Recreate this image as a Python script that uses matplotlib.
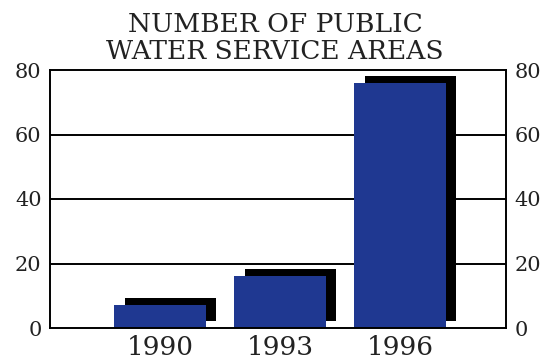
import numpy as np
import matplotlib
matplotlib.use('Agg')
import matplotlib.pyplot as plt

years = ['1990', '1993', '1996']
areas = [7, 16, 76]
y_ticks = [0, 20, 40, 60, 80]

bar_color = '#1f3891'
shadow_dx = 0.085   # shadow shift right, in bar units
shadow_dy = 2.2     # shadow shift up, in data units

fig = plt.figure(figsize=(5.54, 3.62), dpi=100)
ax = fig.add_axes([50 / 554, 1 - 328 / 362, 456 / 554, 258 / 362])

x = np.arange(len(years))
w = 0.76

# black "3d" shadow behind each bar
ax.bar(x + shadow_dx, areas, width=w, bottom=shadow_dy, color='black', zorder=2)
ax.bar(x, areas, width=w, color=bar_color, zorder=3)

for yv in y_ticks[1:-1]:
    ax.axhline(yv, color='black', linewidth=1.4, zorder=1)

ax.set_xlim(-0.917, 2.883)
ax.set_ylim(0, 80)
ax.set_xticks(x)
ax.set_xticklabels(years, fontsize=19, family='DejaVu Serif')
ax.set_yticks(y_ticks)
ax.set_yticklabels([str(v) for v in y_ticks], fontsize=15, family='DejaVu Serif')
ax.tick_params(axis='both', length=0, colors='#222222')
ax.tick_params(axis='x', pad=5)
ax.tick_params(axis='y', pad=6, labelright=True, right=True)

for axis in ['top', 'bottom', 'left', 'right']:
    ax.spines[axis].set_linewidth(1.4)
    ax.spines[axis].set_zorder(4)

fig.text(275 / 554, 0.967, 'NUMBER OF PUBLIC\nWATER SERVICE AREAS', ha='center', va='top',
         fontsize=19, family='DejaVu Serif', linespacing=1.12, color='#222222')

fig.savefig('out.png', dpi=100)
